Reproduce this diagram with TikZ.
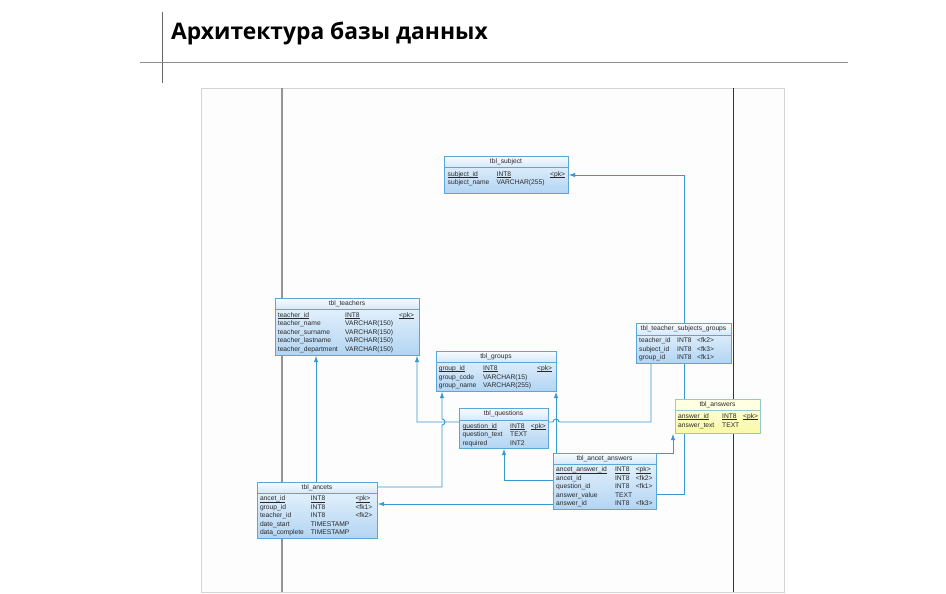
\documentclass[tikz,border=0pt]{standalone}
\usepackage{fontspec}
\setmainfont{Liberation Sans}
\newfontfamily\titlefont{Open Sans}
\usetikzlibrary{arrows.meta,calc}
\pgfdeclarelayer{back}
\pgfdeclarelayer{bg}
\pgfsetlayers{back,bg,main}
\definecolor{fkcol}{RGB}{58,152,208}
\definecolor{tblline}{RGB}{92,166,214}
\definecolor{tbltop}{RGB}{236,245,253}
\definecolor{tblbot}{RGB}{178,213,243}
\definecolor{hdrtop}{RGB}{248,252,255}
\definecolor{hdrbot}{RGB}{214,233,250}
\definecolor{ylwtop}{RGB}{255,255,226}
\definecolor{ylwbot}{RGB}{249,249,165}
\definecolor{ylwline}{RGB}{150,200,205}
\definecolor{txtcol}{RGB}{40,40,40}
\definecolor{framecol}{RGB}{212,212,212}
\tikzset{
  tbl/.style={draw=tblline, line width=0.7pt, top color=tbltop, bottom color=tblbot, inner sep=0pt, anchor=north west},
  ytbl/.style={draw=ylwline, line width=0.7pt, top color=ylwtop, bottom color=ylwbot, inner sep=0pt, anchor=north west},
  hdr/.style={draw=tblline, line width=0.7pt, top color=hdrtop, bottom color=hdrbot},
  yhdr/.style={draw=ylwline, line width=0.7pt, top color=ylwtop, bottom color=ylwtop},
  cell/.style={anchor=base west, inner sep=0pt, text=txtcol, font=\fontsize{6.7}{8}\selectfont},
  ttl/.style={anchor=center, inner sep=0pt, text=txtcol, font=\fontsize{6.7}{8}\selectfont},
  fk/.style={draw=fkcol, line width=0.9pt, -{Latex[length=6.5pt,width=4.5pt]}},
}
% table: name, x1, y1, x2, y2, header bottom, title, style prefix
\newcommand\mktable[8]{%
  \node[#8tbl, minimum width={(#4-#2)*1pt}, minimum height={(#5-#3)*1pt}] (#1) at (#2,#3) {};
  \path[#8hdr] (#1.north west) rectangle (#4,#6);
  \node[ttl] (#1-title) at ({(#2+#4)/2},{(#3+#6)/2}) {#7};
}
% row: table, index, y (centre), xa, a, xb, b, xc, c
\newcommand\trow[9]{%
  \node[cell] (#1-#2a) at (#4,#3+2.4) {#5};
  \node[cell] (#1-#2b) at (#6,#3+2.4) {#7};
  \node[cell] (#1-#2c) at (#8,#3+2.4) {#9};
}
\newlength\ulwd
\newcommand\ul[1]{\settowidth\ulwd{#1}\rlap{\rule[-1.1pt]{\ulwd}{0.4pt}}#1}
\begin{document}
\begin{tikzpicture}[x=1pt,y=-1pt]
\useasboundingbox (0,0) rectangle (946,594);
\begin{pgfonlayer}{back}
\fill[white] (0,0) rectangle (946,594);
\draw[framecol, fill={rgb,255:red,253;green,253;blue,253}, line width=0.8pt] (201,88) rectangle (784,592);
\end{pgfonlayer}
% heading
\draw[black!60, line width=0.8pt] (162,12) -- (162,83);
\draw[black!45, line width=0.8pt] (140,62) -- (848,62);
\node[anchor=base west, inner sep=0pt, font=\titlefont\bfseries\fontsize{22.8}{27}\selectfont] (title) at (171,40) {Архитектура базы данных};

% tables
\mktable{subject}{444}{156}{568}{193}{167}{tbl\_subject}{}
\trow{subject}{1}{174}{447.5}{\ul{subject\_id}}{496.5}{\ul{INT8}}{550}{\ul{<pk>}}
\trow{subject}{2}{182.5}{447.5}{subject\_name}{496.5}{VARCHAR(255)}{550}{}

\mktable{teachers}{275}{298}{419}{355}{309}{tbl\_teachers}{}
\trow{teachers}{1}{315}{277.7}{\ul{teacher\_id}}{345}{\ul{INT8}}{399}{\ul{<pk>}}
\trow{teachers}{2}{323.4}{277.7}{teacher\_name}{345}{VARCHAR(150)}{399}{}
\trow{teachers}{3}{331.8}{277.7}{teacher\_surname}{345}{VARCHAR(150)}{399}{}
\trow{teachers}{4}{340.2}{277.7}{teacher\_lastname}{345}{VARCHAR(150)}{399}{}
\trow{teachers}{5}{348.6}{277.7}{teacher\_department}{345}{VARCHAR(150)}{399}{}

\mktable{groups}{436}{351}{556}{391}{362}{tbl\_groups}{}
\trow{groups}{1}{368.3}{438.6}{\ul{group\_id}}{483}{\ul{INT8}}{537}{\ul{<pk>}}
\trow{groups}{2}{376.7}{438.6}{group\_code}{483}{VARCHAR(15)}{537}{}
\trow{groups}{3}{385.1}{438.6}{group\_name}{483}{VARCHAR(255)}{537}{}

\mktable{tsg}{636}{323}{731}{363}{335}{tbl\_teacher\_subjects\_groups}{}
\trow{tsg}{1}{340.5}{639}{teacher\_id}{677}{INT8}{697}{<fk2>}
\trow{tsg}{2}{348.9}{639}{subject\_id}{677}{INT8}{697}{<fk3>}
\trow{tsg}{3}{357.3}{639}{group\_id}{677}{INT8}{697}{<fk1>}

\mktable{questions}{459}{408}{548}{448}{420}{tbl\_questions}{}
\trow{questions}{1}{426}{462.5}{\ul{question\_id}}{510}{\ul{INT8}}{530.7}{\ul{<pk>}}
\trow{questions}{2}{434.4}{462.5}{question\_text}{510}{TEXT}{530.7}{}
\trow{questions}{3}{442.8}{462.5}{required}{510}{INT2}{530.7}{}

\mktable{answers}{675}{399}{760}{433}{410}{tbl\_answers}{y}
\trow{answers}{1}{416.2}{678}{\ul{answer\_id}}{722}{\ul{INT8}}{743}{\ul{<pk>}}
\trow{answers}{2}{424.6}{678}{answer\_text}{722}{TEXT}{743}{}

\mktable{aa}{553}{453}{656}{509}{464}{tbl\_ancet\_answers}{}
\trow{aa}{1}{469.5}{556}{\ul{ancet\_answer\_id}}{614.8}{\ul{INT8}}{635.6}{\ul{<pk>}}
\trow{aa}{2}{477.9}{556}{ancet\_id}{614.8}{INT8}{635.6}{<fk2>}
\trow{aa}{3}{486.3}{556}{question\_id}{614.8}{INT8}{635.6}{<fk1>}
\trow{aa}{4}{494.7}{556}{answer\_value}{614.8}{TEXT}{635.6}{}
\trow{aa}{5}{503.1}{556}{answer\_id}{614.8}{INT8}{635.6}{<fk3>}

\mktable{ancets}{257}{482}{377}{538}{493}{tbl\_ancets}{}
\trow{ancets}{1}{498.5}{259.8}{\ul{ancet\_id}}{310.6}{\ul{INT8}}{355.3}{\ul{<pk>}}
\trow{ancets}{2}{506.9}{259.8}{group\_id}{310.6}{INT8}{355.3}{<fk1>}
\trow{ancets}{3}{515.3}{259.8}{teacher\_id}{310.6}{INT8}{355.3}{<fk2>}
\trow{ancets}{4}{523.7}{259.8}{date\_start}{310.6}{TIMESTAMP}{355.3}{}
\trow{ancets}{5}{532.1}{259.8}{data\_complete}{310.6}{TIMESTAMP}{355.3}{}

\begin{pgfonlayer}{bg}
  \draw[black!42, line width=1.6pt] (282,88) -- (282,592);
  \draw[black!80, line width=1pt] (733,88) -- (733,592);
  % ancets -> teachers
  \draw[fk] (ancets.north -| 316,0) -- (teachers.south -| 316,0);
  % ancets -> groups
  \draw[fk] (ancets.east |- 0,487) -- (442,487) -- (442,425) arc[start angle=-90, end angle=90, radius=3pt] -- (groups.south -| 442,0);
  % ancet_answers -> ancets
  \draw[fk] (aa.west |- 0,504) -- (ancets.east |- 0,504);
  % ancet_answers -> questions
  \draw[fk] (aa.west |- 0,480) -| (questions.south -| 504,0);
  % ancet_answers -> answers
  \draw[fk] (aa.north east) -| (answers.south -| 673,0);
  % tsg -> subject
  \draw[fk] (tsg.north -| 684,0) |- (subject.east |- 0,175);
  % tsg -> teachers
  \draw[fk] (tsg.south -| 651,0) |- (559,422) arc[start angle=0, end angle=180, radius=3pt] -| (teachers.south -| 417,0);
  % tsg -> groups
  \draw[fk] (tsg.south -| 684,0) |- (556,494) -- (groups.south -| 556,0);
\end{pgfonlayer}
\end{tikzpicture}
\end{document}
